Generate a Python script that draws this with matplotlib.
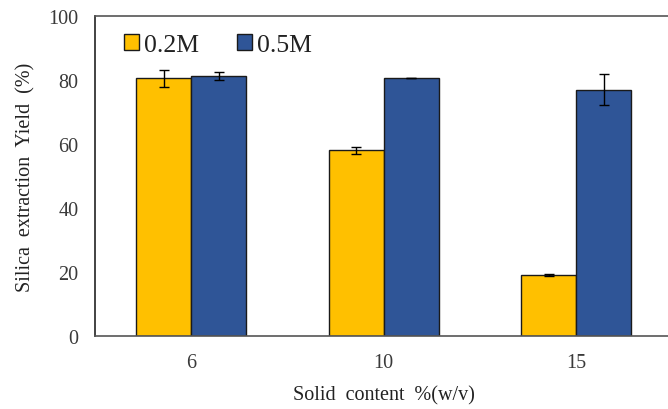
import matplotlib
matplotlib.use("Agg")
import matplotlib.pyplot as plt
import numpy as np

categories = ["6", "10", "15"]
series_names = ["0.2M", "0.5M"]
yield_02 = [80.5, 58.0, 19.0]
err_02 = [2.7, 1.2, 0.4]
yield_05 = [81.3, 80.5, 77.0]
err_05 = [1.2, 0.0, 4.9]
yticks = [0, 20, 40, 60, 80, 100]

plt.rcParams['font.family'] = ['Liberation Serif', 'DejaVu Serif']

fig = plt.figure(figsize=(6.68, 4.10), dpi=100)
ax = fig.add_axes([95/668, 73/410, 577.5/668, 320/410])

x = np.arange(len(categories))
w = 0.286
ax.bar(x - w/2, yield_02, w, color="#FFC000", edgecolor="#1a1a1a", linewidth=1.0,
       label=series_names[0], zorder=2)
ax.bar(x + w/2, yield_05, w, color="#2F5597", edgecolor="#1a1a1a", linewidth=1.0,
       label=series_names[1], zorder=2)
ax.errorbar(x - w/2, yield_02, yerr=err_02, fmt='none', ecolor='black', elinewidth=1.0,
            capsize=3.5, capthick=1.0, zorder=3)
ax.errorbar(x + w/2, yield_05, yerr=err_05, fmt='none', ecolor='black', elinewidth=1.0,
            capsize=3.5, capthick=1.0, zorder=3)

ax.set_xlim(-0.5, 2.5)
ax.set_ylim(0, 100)
ax.set_yticks(yticks)
ax.set_xticks(x)
ax.set_xticklabels(categories)
ax.tick_params(axis='both', length=0, labelsize=14.5, colors='#3a3a3a')
ax.tick_params(axis='x', pad=12)
ax.tick_params(axis='y', pad=12)

for s in ['top', 'bottom']:
    ax.spines[s].set_color('#555555')
    ax.spines[s].set_linewidth(1.2)
ax.spines['left'].set_color('#222222')
ax.spines['left'].set_linewidth(1.2)
ax.spines['right'].set_visible(False)

ax.set_xlabel("Solid  content  %(w/v)", fontsize=14.5, color='#222222', labelpad=10)
ax.set_ylabel("Silica  extraction  Yield  (%)", fontsize=14.5, color='#222222', labelpad=9)

leg = ax.legend(loc='upper left', bbox_to_anchor=(0.05, 0.945), ncol=2, frameon=False,
                fontsize=18.5, handlelength=0.6, handleheight=0.6, handletextpad=0.2,
                columnspacing=1.45, borderaxespad=0.0, borderpad=0.0)
for t in leg.get_texts():
    t.set_color('#222222')

fig.savefig("out.png", dpi=100)
